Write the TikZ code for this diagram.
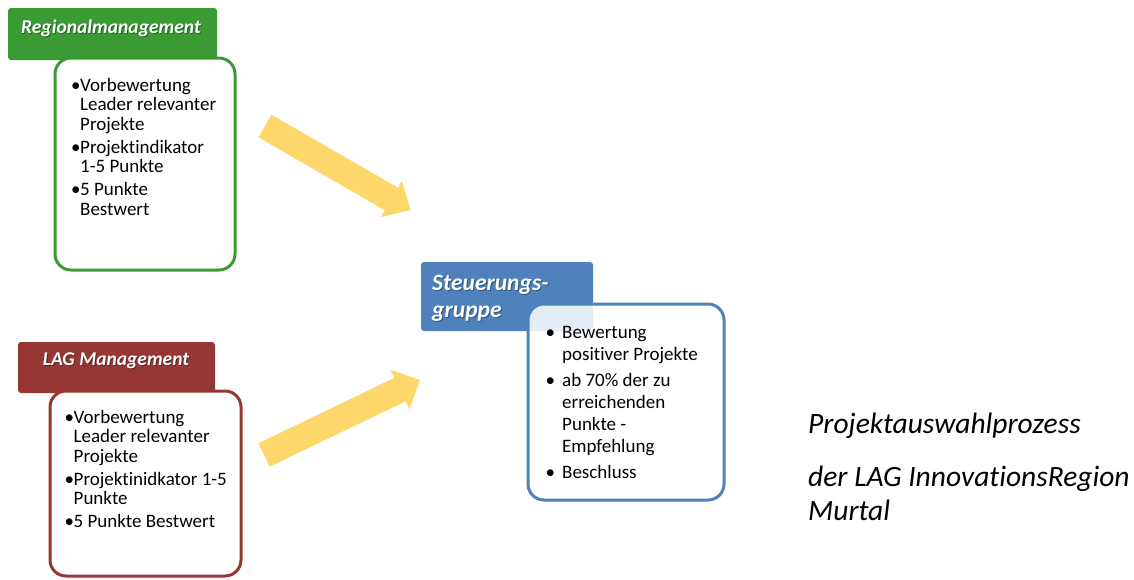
\documentclass[tikz,border=0pt]{standalone}
\usepackage{fontspec}
\setmainfont{Carlito}[Ligatures=NoCommon]
\definecolor{rmgreen}{RGB}{58,154,52}
\definecolor{lagred}{RGB}{150,55,52}
\definecolor{sgblue}{RGB}{79,129,189}
\definecolor{arrowyellow}{RGB}{253,215,106}
\newcommand{\bulA}{\makebox[9pt][l]{\textbullet}}
\newcommand{\bulB}{\makebox[16.5pt][l]{\textbullet}}
\tikzset{
  header/.style={rounded corners=3pt, inner sep=0pt, outer sep=0pt, anchor=north west},
  listbox/.style={draw, line width=3pt, fill=white, rounded corners=16pt, inner sep=0pt, outer sep=0pt, anchor=north west},
  headtext/.style={text=white, font=\fontsize{19.5}{20}\selectfont\bfseries\itshape, inner sep=0pt},
  headshadow/.style={text=black, text opacity=0.35, font=\fontsize{19.5}{20}\selectfont\bfseries\itshape, inner sep=0pt},
  listtext/.style={font=\fontsize{19}{19.5}\selectfont, inner sep=0pt, anchor=base west},
  bluelist/.style={font=\fontsize{19}{22}\selectfont, inner sep=0pt, anchor=base west},
  titletext/.style={font=\fontsize{29.5}{34}\selectfont\itshape, inner sep=0pt, anchor=base west},
  bigarrow/.style={fill=arrowyellow}
}
\begin{document}
\begin{tikzpicture}[x=1pt,y=-1pt]
\useasboundingbox (0,0) rectangle (1134,579);

% arrows
\fill[bigarrow] (258.5,137.3) -- (271.5,114.7) -- (397.9,187.7) -- (401.9,180.8) -- (410.5,210) -- (380.9,217.2) -- (384.9,210.3) -- cycle;
\fill[bigarrow] (258.4,443.3) -- (394.4,377.9) -- (390.5,369.8) -- (419.9,380.1) -- (409.5,409.4) -- (405.6,401.3) -- (269.6,466.7) -- cycle;

% Regionalmanagement
\node[header, fill=rmgreen, minimum width=209pt, minimum height=52pt] (rmhead) at (8,8) {};
\node[listbox, draw=rmgreen, minimum width=180pt, minimum height=212pt] (rmbox) at (55,58) {};
\node[headshadow, anchor=base] (rmshadow) at (112,34) {Regionalmanagement};
\node[headtext, anchor=base] (rmtitle) at (111,33) {Regionalmanagement};
\node[listtext] (rmlist) at (71,91) {\begin{tabular}[t]{@{}l@{}l@{}}
\bulA & Vorbewertung\\
 & Leader relevanter\\
 & Projekte\\[3.5pt]
\bulA & Projektindikator\\
 & 1-5 Punkte\\[3.5pt]
\bulA & 5 Punkte\\
 & Bestwert
\end{tabular}};

% LAG Management
\node[header, fill=lagred, minimum width=197pt, minimum height=51pt] (laghead) at (18,342) {};
\node[listbox, draw=lagred, minimum width=191pt, minimum height=185pt] (lagbox) at (50,391) {};
\node[headshadow, anchor=base] (lagshadow) at (117,366) {LAG Management};
\node[headtext, anchor=base] (lagtitle) at (116,365) {LAG Management};
\node[listtext] (laglist) at (64.5,423) {\begin{tabular}[t]{@{}l@{}l@{}}
\bulA & Vorbewertung\\
 & Leader relevanter\\
 & Projekte\\[3.5pt]
\bulA & Projektinidkator 1-5\\
 & Punkte\\[3.5pt]
\bulA & 5 Punkte Bestwert
\end{tabular}};

% Steuerungsgruppe
\node[header, fill=sgblue, minimum width=172pt, minimum height=69pt] (sghead) at (421,262) {};
\node[headshadow, font=\fontsize{23.5}{27}\selectfont\bfseries\itshape, anchor=base west] (sgshadowa) at (433,291) {Steuerungs-};
\node[headshadow, font=\fontsize{23.5}{27}\selectfont\bfseries\itshape, anchor=base west] (sgshadowb) at (433,318) {gruppe};
\node[headtext, font=\fontsize{23.5}{27}\selectfont\bfseries\itshape, anchor=base west] (sgtitlea) at (432,290) {Steuerungs-};
\node[headtext, font=\fontsize{23.5}{27}\selectfont\bfseries\itshape, anchor=base west] (sgtitleb) at (432,317) {gruppe};
\node[listbox, draw=sgblue, fill opacity=0.85, minimum width=196pt, minimum height=196pt] (sgbox) at (528,304) {};
\node[bluelist] (sglist) at (545.5,338) {\begin{tabular}[t]{@{}l@{}l@{}}
\bulB & Bewertung\\
 & positiver Projekte\\[4pt]
\bulB & ab 70\% der zu\\
 & erreichenden\\
 & Punkte -\\
 & Empfehlung\\[4pt]
\bulB & Beschluss
\end{tabular}};

% title
\node[titletext] (titlea) at (808,433) {Projektauswahlprozess};
\node[titletext] (titleb) at (808,486) {der LAG InnovationsRegion};
\node[titletext] (titlec) at (808,520) {Murtal};
\end{tikzpicture}
\end{document}
